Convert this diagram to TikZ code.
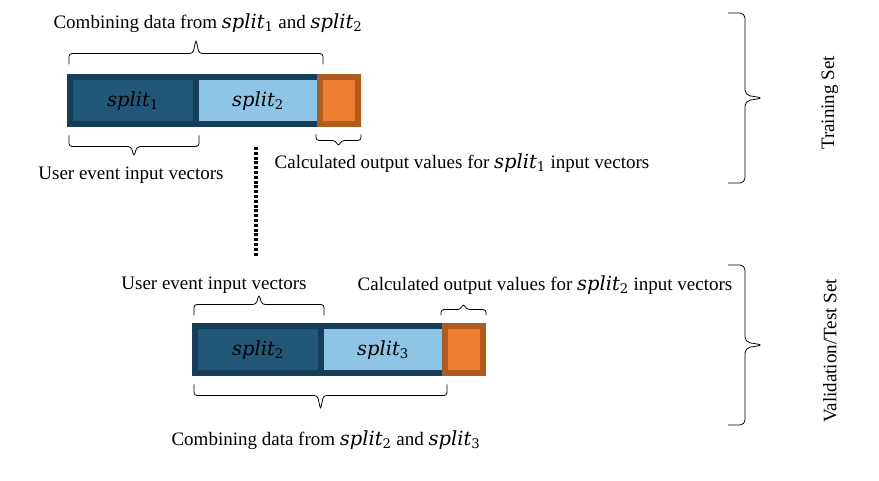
\documentclass[tikz,border=0pt]{standalone}
\usepackage{fix-cm}
\usepackage{fontspec}
\setmainfont{Liberation Serif}
\newfontfamily\splitfont{DejaVu Serif}
\usetikzlibrary{calc}
\definecolor{splitdark}{HTML}{215878}
\definecolor{splitlight}{HTML}{8FC5E4}
\definecolor{splitedge}{HTML}{173E59}
\definecolor{outfill}{HTML}{ED7D31}
\definecolor{outedge}{HTML}{B05C1F}
\newcommand{\splt}[1]{{\splitfont\fontsize{19.5}{23}\selectfont\itshape split\/}{\splitfont\textsubscript{#1}}}
\tikzset{
  seg/.style={draw=splitedge, line width=6pt, minimum height=47pt, inner sep=0pt,
    font=\fontsize{19}{23}\selectfont},
  outseg/.style={seg, draw=outedge, fill=outfill, minimum width=38pt},
  lbl/.style={font=\fontsize{19}{23}\selectfont, inner sep=0pt},
  brc/.style 2 args={line width=0.8pt, rounded corners=3pt, to path={
    -- ($(\tikztostart)!#1!90:(\tikztotarget)$)
    -- ($(\tikztostart)!.5!(\tikztotarget)!-3pt!(\tikztotarget)!#1!90:(\tikztotarget)$)
    -- ($(\tikztostart)!.5!(\tikztotarget)!#2!90:(\tikztotarget)$)
    -- ($(\tikztostart)!.5!(\tikztotarget)!3pt!(\tikztotarget)!#1!90:(\tikztotarget)$)
    -- ($(\tikztotarget)!#1!-90:(\tikztostart)$)
    -- (\tikztotarget)}},
}
\begin{document}
\begin{tikzpicture}[x=1pt, y=1pt]
  \useasboundingbox (0,0) rectangle (879,481);

  \node[seg, fill=splitdark, minimum width=126pt] (s1a) at (133,380) {\splt{1}};
  \node[seg, fill=splitlight, minimum width=124pt] (s2a) at (258,380) {\splt{2}};
  \node[outseg] (outa) at (339,380) {};

  \node[seg, fill=splitdark, minimum width=126pt] (s2b) at (258,131) {\splt{2}};
  \node[seg, fill=splitlight, minimum width=124pt] (s3b) at (383,131) {\splt{3}};
  \node[outseg] (outb) at (464,131) {};

  \node[lbl] (comba) at (208,458) {Combining data from \splt{1} and \splt{2}};
  \node[lbl] (usera) at (131,306) {User event input vectors};
  \node[lbl] (calca) at (462,318) {Calculated output values for \splt{1} input vectors};
  \node[lbl] (userb) at (214,196) {User event input vectors};
  \node[lbl] (calcb) at (545,196) {Calculated output values for \splt{2} input vectors};
  \node[lbl] (combb) at (326,41) {Combining data from \splt{2} and \splt{3}};
  \node[lbl, rotate=90] (train) at (830,378) {Training Set};
  \node[lbl, rotate=90] (valid) at (830,130) {Validation/Test Set};

  \draw[brc={11pt}{25pt}] ([xshift=2pt, yshift=10pt]s1a.north west) to ([yshift=10pt]s2a.north east);
  \draw[brc={11pt}{21pt}] ([yshift=-8pt]s1a.south east) to ([xshift=2pt, yshift=-8pt]s1a.south west);
  \draw[brc={6pt}{12pt}] ([yshift=-7pt]outa.south east) to ([xshift=-1pt, yshift=-7pt]outa.south west);

  \draw[brc={11pt}{21pt}] ([xshift=2pt, yshift=8pt]s2b.north west) to ([yshift=8pt]s2b.north east);
  \draw[brc={6pt}{12pt}] ([xshift=-1pt, yshift=8pt]outb.north west) to ([yshift=8pt]outb.north east);
  \draw[brc={11pt}{25pt}] ([xshift=-1pt, yshift=-8pt]s3b.south east) to ([xshift=2pt, yshift=-8pt]s2b.south west);

  \coordinate (dtop) at (256,334);
  \coordinate (dbot) at (256,225);
  \draw[line width=3.5pt, dash pattern=on 3pt off 1.8pt] (dtop) -- (dbot);

  \coordinate (trtop) at (728,468);
  \coordinate (trbot) at (728,298);
  \coordinate (vatop) at (728,216);
  \coordinate (vabot) at (728,56);
  \draw[brc={17pt}{35pt}, rounded corners=5pt] (trtop) to (trbot);
  \draw[brc={17pt}{35pt}, rounded corners=5pt] (vatop) to (vabot);
\end{tikzpicture}
\end{document}
